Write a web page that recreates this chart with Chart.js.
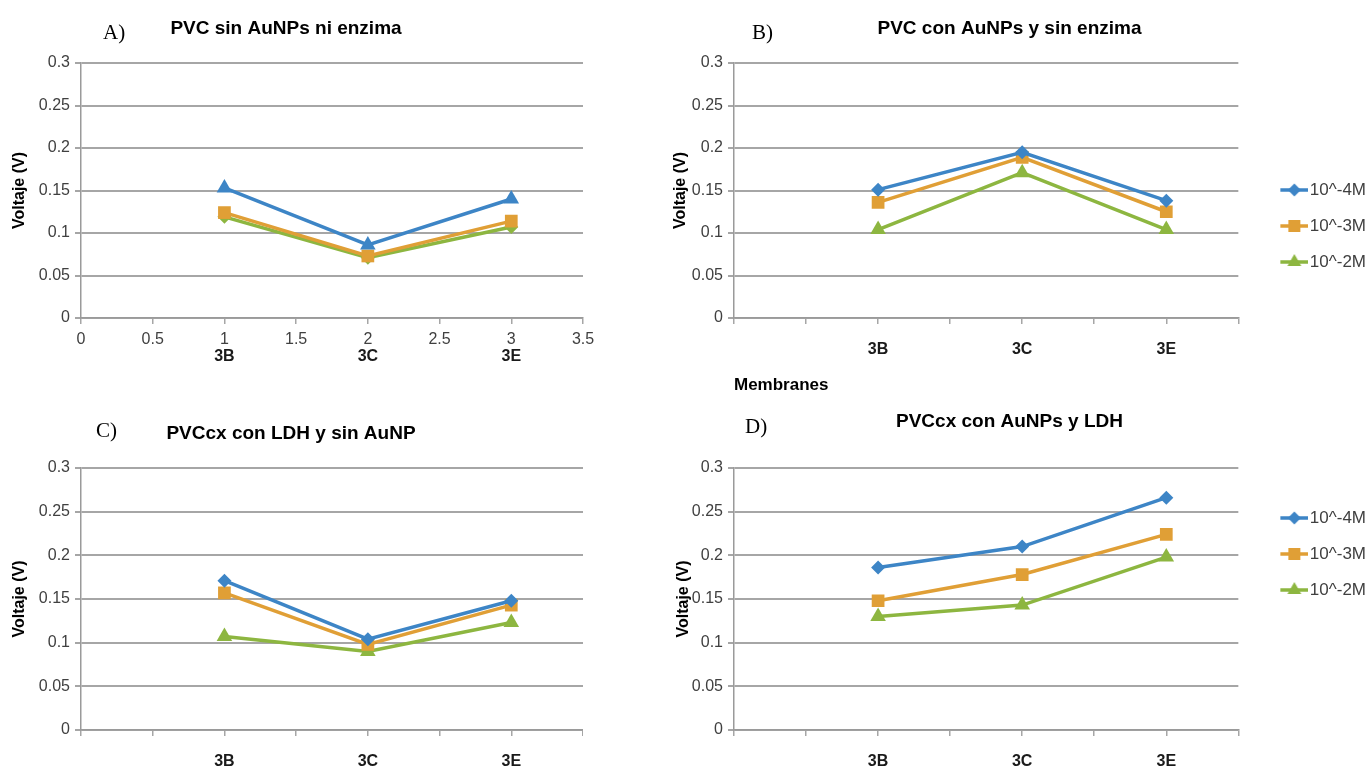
<!DOCTYPE html>
<html>
<head>
<meta charset="utf-8">
<title>Voltaje por membrana</title>
<script src="https://cdn.jsdelivr.net/npm/chart.js"></script>
<style>
  html, body { margin: 0; padding: 0; background: #fff; overflow: hidden; width: 1370px; height: 768px; }
  canvas { position: absolute; }
  .lbl { position: absolute; font-family: "Liberation Serif", "DejaVu Serif", serif; font-size: 21px; line-height: 24px; color: #000; }
</style>
</head>
<body>
<canvas id="chartA" width="610" height="374" style="left:-11px;top:0px"></canvas>
<canvas id="chartB" width="733" height="400" style="left:643px;top:0px"></canvas>
<canvas id="chartC" width="584" height="378" style="left:-1px;top:390px"></canvas>
<canvas id="chartD" width="733" height="378" style="left:643px;top:390px"></canvas>
<div class="lbl" style="left:103px;top:20px">A)</div>
<div class="lbl" style="left:752px;top:20px">B)</div>
<div class="lbl" style="left:96px;top:418px">C)</div>
<div class="lbl" style="left:745px;top:414px">D)</div>
<script>
// membranas y concentraciones
const membranes = ["3B", "3C", "3E"];
const xPositions = [1, 2, 3];
const concentrations = ["10^-4M", "10^-3M", "10^-2M"];

// A) PVC sin AuNPs ni enzima
const pvcA_4M = [0.153, 0.086, 0.140];
const pvcA_3M = [0.124, 0.073, 0.114];
const pvcA_2M = [0.119, 0.071, 0.107];

// B) PVC con AuNPs y sin enzima
const pvcB_4M = [0.151, 0.195, 0.138];
const pvcB_3M = [0.136, 0.189, 0.125];
const pvcB_2M = [0.104, 0.171, 0.104];

// C) PVCcx con LDH y sin AuNP
const pvcC_4M = [0.171, 0.104, 0.148];
const pvcC_3M = [0.157, 0.098, 0.143];
const pvcC_2M = [0.107, 0.090, 0.123];

// D) PVCcx con AuNPs y LDH
const pvcD_4M = [0.186, 0.210, 0.266];
const pvcD_3M = [0.148, 0.178, 0.224];
const pvcD_2M = [0.130, 0.143, 0.198];

const colors = ["#3d85c6", "#e09f36", "#8db640"];
const fontFamily = "'Liberation Sans', Arial, sans-serif";
const gridColor = "#a6a6a6";
const axisColor = "#9a9a9a";
const tickColor = "#404040";

const radiusFor = { rectRot: 7, rect: 9, triangle: 9 };

function toPoints(values) {
  return values.map((v, i) => ({ x: xPositions[i], y: v }));
}

function makeDatasets(series, styles) {
  return series.map((vals, i) => ({
    label: concentrations[i],
    data: toPoints(vals),
    borderColor: colors[i],
    backgroundColor: colors[i],
    borderWidth: 3.5,
    pointStyle: styles[i],
    pointRadius: radiusFor[styles[i]],
    pointHoverRadius: radiusFor[styles[i]],
    pointBorderWidth: 0,
    tension: 0,
    fill: false
  }));
}

// muestra de leyenda: linea con marcador
function swatch(color, style) {
  const c = document.createElement("canvas");
  c.width = 58;
  c.height = 20;
  const g = c.getContext("2d");
  g.strokeStyle = color;
  g.fillStyle = color;
  g.lineWidth = 3.5;
  g.beginPath();
  g.moveTo(30, 10);
  g.lineTo(58, 10);
  g.stroke();
  const r = { rectRot: 6.5, rect: 8.5, triangle: 8 }[style];
  if (Chart.helpers && Chart.helpers.drawPoint) {
    Chart.helpers.drawPoint(g, { pointStyle: style, radius: r, rotation: 0, borderWidth: 0 }, 44, 10);
  }
  return c;
}

function buildPanel(id, p) {
  const labelFor = v => {
    const i = xPositions.indexOf(v);
    return i >= 0 ? membranes[i] : "";
  };

  const scales = {
    x: {
      type: "linear",
      min: 0,
      max: 3.5,
      weight: 0,
      ticks: {
        stepSize: 0.5,
        autoSkip: false,
        maxRotation: 0,
        padding: p.numericX ? 6 : 16,
        color: p.numericX ? tickColor : "#1a1a1a",
        font: p.numericX ? { family: fontFamily, size: 16 } : { family: fontFamily, size: 16, weight: "bold" },
        callback: p.numericX ? v => String(v) : labelFor
      },
      grid: { drawOnChartArea: false, drawTicks: true, tickLength: 6, color: gridColor, lineWidth: 1.5 },
      border: { color: axisColor, width: 1.5 },
      title: p.xTitle
        ? { display: true, text: p.xTitle, align: "start", color: "#000",
            font: { family: fontFamily, size: 17, weight: "bold" }, padding: { top: 0, bottom: 4 } }
        : { display: false },
      afterFit: s => { s.height = p.xHeight; s.paddingLeft = 0; s.paddingRight = 0; }
    },
    y: {
      min: 0,
      max: 0.3,
      ticks: {
        stepSize: 0.05,
        padding: 5,
        color: tickColor,
        font: { family: fontFamily, size: 16 },
        callback: v => String(parseFloat(v.toFixed(2)))
      },
      grid: { color: gridColor, lineWidth: 2, tickLength: 6 },
      border: { color: axisColor, width: 1.5 },
      title: {
        display: true,
        text: "Voltaje (V)",
        color: "#000",
        font: { family: fontFamily, size: 16, weight: "bold" },
        padding: { top: p.yTitlePad, bottom: 0 }
      },
      afterFit: s => { s.width = p.yWidth; s.paddingTop = 0; s.paddingBottom = 0; }
    }
  };

  if (p.numericX) {
    scales.x2 = {
      type: "linear",
      position: "bottom",
      min: 0,
      max: 3.5,
      weight: 1,
      ticks: {
        stepSize: 0.5,
        autoSkip: false,
        maxRotation: 0,
        padding: 3,
        color: "#1a1a1a",
        font: { family: fontFamily, size: 16, weight: "bold" },
        callback: labelFor
      },
      grid: { display: false, drawTicks: false },
      border: { display: false },
      afterFit: s => { s.height = p.x2Height; s.paddingLeft = 0; s.paddingRight = 0; }
    };
  }

  const swatches = p.styles.map((st, i) => swatch(colors[i], st));

  const legend = p.legendTop
    ? {
        display: true,
        position: "right",
        align: "start",
        title: { display: true, text: "", font: { size: 1 }, padding: { top: p.legendTop - 19 - 8.5 - 1.2, bottom: 0 } },
        labels: {
          usePointStyle: true,
          pointStyleWidth: 44,
          padding: 19,
          color: tickColor,
          font: { family: fontFamily, size: 17 },
          generateLabels: chart =>
            Chart.defaults.plugins.legend.labels.generateLabels(chart)
              .map((item, i) => Object.assign(item, { pointStyle: swatches[i] }))
        }
      }
    : { display: false };

  return new Chart(document.getElementById(id), {
    type: "line",
    data: { datasets: makeDatasets(p.series, p.styles) },
    options: {
      responsive: false,
      animation: false,
      layout: { autoPadding: false, padding: { left: 0, right: p.padRight || 0, top: 0, bottom: 0 } },
      scales,
      plugins: {
        title: {
          display: true,
          text: p.title,
          color: "#000",
          font: { family: fontFamily, size: 19, weight: "bold" },
          padding: { top: p.titleTop, bottom: p.titleBottom }
        },
        legend,
        tooltip: { enabled: false }
      }
    }
  });
}

buildPanel("chartA", {
  title: "PVC sin AuNPs ni enzima",
  series: [pvcA_4M, pvcA_3M, pvcA_2M],
  styles: ["triangle", "rect", "rectRot"],
  numericX: true,
  xHeight: 26,
  x2Height: 30,
  padRight: 16,
  yWidth: 92,
  yTitlePad: 21.4,
  titleTop: 17.5,
  titleBottom: 22.7
});

buildPanel("chartB", {
  title: "PVC con AuNPs y sin enzima",
  series: [pvcB_4M, pvcB_3M, pvcB_2M],
  styles: ["rectRot", "rect", "triangle"],
  xTitle: "Membranes",
  xHeight: 82,
  yWidth: 91,
  yTitlePad: 28.4,
  titleTop: 17.5,
  titleBottom: 22.7,
  legendTop: 190
});

buildPanel("chartC", {
  title: "PVCcx con LDH y sin AuNP",
  series: [pvcC_4M, pvcC_3M, pvcC_2M],
  styles: ["rectRot", "rect", "triangle"],
  xHeight: 38,
  yWidth: 82,
  yTitlePad: 11.4,
  titleTop: 32.6,
  titleBottom: 22.6
});

buildPanel("chartD", {
  title: "PVCcx con AuNPs y LDH",
  series: [pvcD_4M, pvcD_3M, pvcD_2M],
  styles: ["rectRot", "rect", "triangle"],
  xHeight: 38,
  yWidth: 91,
  yTitlePad: 31.4,
  titleTop: 20.6,
  titleBottom: 34.6,
  legendTop: 128
});
</script>
</body>
</html>
